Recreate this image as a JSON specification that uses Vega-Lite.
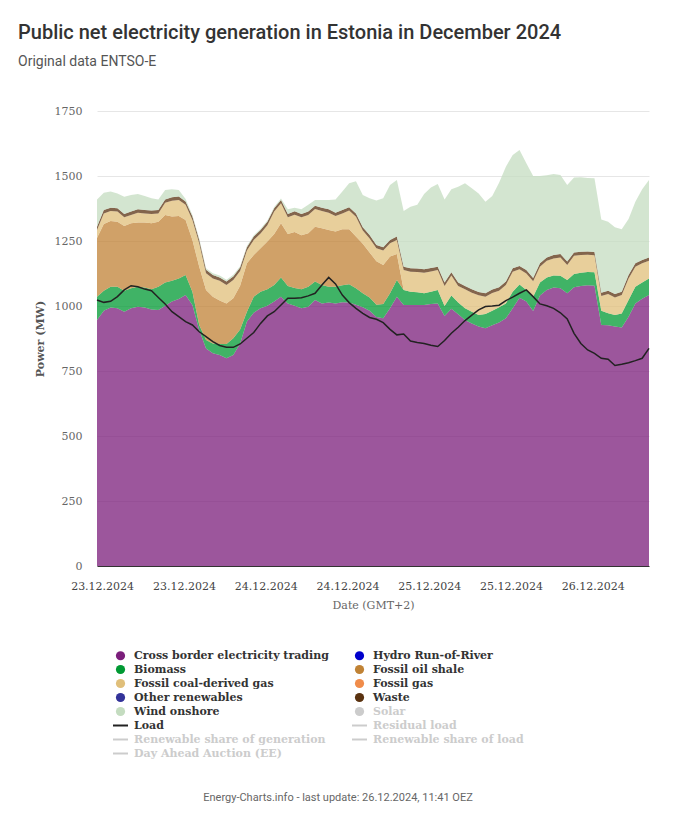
{
  "$schema": "https://vega.github.io/schema/vega-lite/v6.json",
  "width": 552,
  "height": 455,
  "autosize": "none",
  "padding": {"left": 97, "top": 111, "right": 32, "bottom": 260},
  "background": "white",
  "config": {"view": {"stroke": null}},
  "title": {
    "text": "Public net electricity generation in Estonia in December 2024",
    "subtitle": "Original data ENTSO-E",
    "anchor": "start",
    "frame": "group",
    "font": "Roboto",
    "fontSize": 20,
    "fontWeight": 500,
    "color": "#333333",
    "subtitleFont": "Roboto",
    "subtitleFontSize": 14,
    "subtitleColor": "#555555",
    "subtitlePadding": 12,
    "offset": 36,
    "dx": -79
  },
  "data": {
    "values": [
      {"t": "2024-12-22T23:15", "cb": 946, "bio": 90, "oil": 226, "coal": 30, "waste": 13, "wind": 105, "load": 1023},
      {"t": "2024-12-23T00:15", "cb": 982, "bio": 77, "oil": 256, "coal": 41, "waste": 13, "wind": 67, "load": 1014},
      {"t": "2024-12-23T01:15", "cb": 994, "bio": 80, "oil": 253, "coal": 38, "waste": 13, "wind": 62, "load": 1018},
      {"t": "2024-12-23T02:15", "cb": 991, "bio": 83, "oil": 250, "coal": 39, "waste": 13, "wind": 57, "load": 1036},
      {"t": "2024-12-23T03:15", "cb": 978, "bio": 81, "oil": 249, "coal": 33, "waste": 13, "wind": 66, "load": 1062},
      {"t": "2024-12-23T04:15", "cb": 991, "bio": 77, "oil": 250, "coal": 32, "waste": 13, "wind": 64, "load": 1078},
      {"t": "2024-12-23T05:15", "cb": 997, "bio": 77, "oil": 247, "coal": 38, "waste": 13, "wind": 59, "load": 1074},
      {"t": "2024-12-23T06:15", "cb": 994, "bio": 77, "oil": 250, "coal": 35, "waste": 13, "wind": 54, "load": 1065},
      {"t": "2024-12-23T07:15", "cb": 987, "bio": 77, "oil": 254, "coal": 36, "waste": 13, "wind": 47, "load": 1059},
      {"t": "2024-12-23T08:15", "cb": 985, "bio": 89, "oil": 250, "coal": 32, "waste": 13, "wind": 41, "load": 1033},
      {"t": "2024-12-23T09:15", "cb": 1001, "bio": 89, "oil": 260, "coal": 47, "waste": 13, "wind": 36, "load": 1008},
      {"t": "2024-12-23T10:15", "cb": 1017, "bio": 80, "oil": 247, "coal": 61, "waste": 13, "wind": 31, "load": 978},
      {"t": "2024-12-23T11:15", "cb": 1027, "bio": 79, "oil": 240, "coal": 62, "waste": 13, "wind": 25, "load": 959},
      {"t": "2024-12-23T12:15", "cb": 1042, "bio": 77, "oil": 212, "coal": 58, "waste": 13, "wind": 10, "load": 940},
      {"t": "2024-12-23T13:15", "cb": 1004, "bio": 51, "oil": 199, "coal": 77, "waste": 13, "wind": 6, "load": 927},
      {"t": "2024-12-23T14:15", "cb": 908, "bio": 19, "oil": 224, "coal": 90, "waste": 13, "wind": 6, "load": 901},
      {"t": "2024-12-23T15:15", "cb": 837, "bio": 32, "oil": 193, "coal": 64, "waste": 13, "wind": 6, "load": 882},
      {"t": "2024-12-23T16:15", "cb": 818, "bio": 38, "oil": 180, "coal": 70, "waste": 13, "wind": 7, "load": 863},
      {"t": "2024-12-23T17:15", "cb": 812, "bio": 42, "oil": 167, "coal": 76, "waste": 13, "wind": 7, "load": 848},
      {"t": "2024-12-23T18:15", "cb": 799, "bio": 55, "oil": 156, "coal": 71, "waste": 13, "wind": 7, "load": 841},
      {"t": "2024-12-23T19:15", "cb": 812, "bio": 64, "oil": 154, "coal": 70, "waste": 13, "wind": 7, "load": 841},
      {"t": "2024-12-23T20:15", "cb": 856, "bio": 54, "oil": 168, "coal": 57, "waste": 13, "wind": 5, "load": 854},
      {"t": "2024-12-23T21:15", "cb": 940, "bio": 38, "oil": 186, "coal": 49, "waste": 13, "wind": 5, "load": 876},
      {"t": "2024-12-23T22:15", "cb": 974, "bio": 62, "oil": 160, "coal": 58, "waste": 13, "wind": 5, "load": 898},
      {"t": "2024-12-23T23:15", "cb": 991, "bio": 64, "oil": 167, "coal": 57, "waste": 13, "wind": 5, "load": 933},
      {"t": "2024-12-24T00:15", "cb": 1001, "bio": 63, "oil": 184, "coal": 63, "waste": 13, "wind": 5, "load": 962},
      {"t": "2024-12-24T01:15", "cb": 1017, "bio": 64, "oil": 196, "coal": 86, "waste": 13, "wind": 5, "load": 978},
      {"t": "2024-12-24T02:15", "cb": 1036, "bio": 74, "oil": 208, "coal": 77, "waste": 13, "wind": 5, "load": 1004},
      {"t": "2024-12-24T03:15", "cb": 1010, "bio": 67, "oil": 200, "coal": 64, "waste": 13, "wind": 18, "load": 1030},
      {"t": "2024-12-24T04:15", "cb": 1001, "bio": 68, "oil": 216, "coal": 66, "waste": 13, "wind": 14, "load": 1030},
      {"t": "2024-12-24T05:15", "cb": 991, "bio": 73, "oil": 208, "coal": 69, "waste": 13, "wind": 18, "load": 1032},
      {"t": "2024-12-24T06:15", "cb": 997, "bio": 77, "oil": 206, "coal": 70, "waste": 13, "wind": 26, "load": 1039},
      {"t": "2024-12-24T07:15", "cb": 1023, "bio": 71, "oil": 211, "coal": 68, "waste": 13, "wind": 22, "load": 1049},
      {"t": "2024-12-24T08:15", "cb": 1010, "bio": 71, "oil": 218, "coal": 66, "waste": 13, "wind": 30, "load": 1081},
      {"t": "2024-12-24T09:15", "cb": 1013, "bio": 61, "oil": 218, "coal": 67, "waste": 13, "wind": 36, "load": 1110},
      {"t": "2024-12-24T10:15", "cb": 1010, "bio": 64, "oil": 213, "coal": 59, "waste": 13, "wind": 51, "load": 1085},
      {"t": "2024-12-24T11:15", "cb": 1014, "bio": 66, "oil": 215, "coal": 61, "waste": 13, "wind": 71, "load": 1042},
      {"t": "2024-12-24T12:15", "cb": 1013, "bio": 71, "oil": 211, "coal": 72, "waste": 13, "wind": 92, "load": 1013},
      {"t": "2024-12-24T13:15", "cb": 1005, "bio": 63, "oil": 199, "coal": 76, "waste": 13, "wind": 124, "load": 991},
      {"t": "2024-12-24T14:15", "cb": 995, "bio": 54, "oil": 190, "coal": 51, "waste": 13, "wind": 124, "load": 972},
      {"t": "2024-12-24T15:15", "cb": 982, "bio": 51, "oil": 173, "coal": 54, "waste": 13, "wind": 141, "load": 956},
      {"t": "2024-12-24T16:15", "cb": 958, "bio": 47, "oil": 167, "coal": 50, "waste": 13, "wind": 171, "load": 949},
      {"t": "2024-12-24T17:15", "cb": 953, "bio": 55, "oil": 150, "coal": 55, "waste": 13, "wind": 188, "load": 936},
      {"t": "2024-12-24T18:15", "cb": 991, "bio": 58, "oil": 141, "coal": 51, "waste": 13, "wind": 211, "load": 910},
      {"t": "2024-12-24T19:15", "cb": 1036, "bio": 64, "oil": 100, "coal": 54, "waste": 13, "wind": 218, "load": 889},
      {"t": "2024-12-24T20:15", "cb": 1004, "bio": 58, "oil": 0, "coal": 76, "waste": 13, "wind": 214, "load": 892},
      {"t": "2024-12-24T21:15", "cb": 1004, "bio": 51, "oil": 0, "coal": 77, "waste": 13, "wind": 237, "load": 865},
      {"t": "2024-12-24T22:15", "cb": 1004, "bio": 49, "oil": 0, "coal": 78, "waste": 13, "wind": 245, "load": 860},
      {"t": "2024-12-24T23:15", "cb": 1004, "bio": 45, "oil": 0, "coal": 79, "waste": 13, "wind": 290, "load": 856},
      {"t": "2024-12-25T00:15", "cb": 1008, "bio": 47, "oil": 0, "coal": 78, "waste": 13, "wind": 310, "load": 849},
      {"t": "2024-12-25T01:15", "cb": 1010, "bio": 52, "oil": 0, "coal": 76, "waste": 13, "wind": 318, "load": 844},
      {"t": "2024-12-25T02:15", "cb": 962, "bio": 38, "oil": 0, "coal": 77, "waste": 13, "wind": 320, "load": 867},
      {"t": "2024-12-25T03:15", "cb": 989, "bio": 51, "oil": 0, "coal": 77, "waste": 13, "wind": 319, "load": 895},
      {"t": "2024-12-25T04:15", "cb": 968, "bio": 45, "oil": 0, "coal": 64, "waste": 13, "wind": 369, "load": 918},
      {"t": "2024-12-25T05:15", "cb": 946, "bio": 45, "oil": 0, "coal": 73, "waste": 13, "wind": 395, "load": 944},
      {"t": "2024-12-25T06:15", "cb": 933, "bio": 45, "oil": 0, "coal": 73, "waste": 13, "wind": 389, "load": 965},
      {"t": "2024-12-25T07:15", "cb": 921, "bio": 44, "oil": 0, "coal": 76, "waste": 13, "wind": 379, "load": 985},
      {"t": "2024-12-25T08:15", "cb": 914, "bio": 55, "oil": 0, "coal": 67, "waste": 13, "wind": 352, "load": 998},
      {"t": "2024-12-25T09:15", "cb": 926, "bio": 56, "oil": 0, "coal": 68, "waste": 13, "wind": 360, "load": 1000},
      {"t": "2024-12-25T10:15", "cb": 937, "bio": 58, "oil": 0, "coal": 64, "waste": 13, "wind": 402, "load": 1003},
      {"t": "2024-12-25T11:15", "cb": 953, "bio": 57, "oil": 0, "coal": 71, "waste": 13, "wind": 442, "load": 1021},
      {"t": "2024-12-25T12:15", "cb": 991, "bio": 64, "oil": 0, "coal": 77, "waste": 13, "wind": 436, "load": 1034},
      {"t": "2024-12-25T13:15", "cb": 1032, "bio": 51, "oil": 0, "coal": 58, "waste": 13, "wind": 446, "load": 1049},
      {"t": "2024-12-25T14:15", "cb": 1017, "bio": 45, "oil": 0, "coal": 63, "waste": 13, "wind": 411, "load": 1062},
      {"t": "2024-12-25T15:15", "cb": 981, "bio": 55, "oil": 0, "coal": 59, "waste": 13, "wind": 392, "load": 1036},
      {"t": "2024-12-25T16:15", "cb": 1040, "bio": 50, "oil": 0, "coal": 61, "waste": 13, "wind": 336, "load": 1008},
      {"t": "2024-12-25T17:15", "cb": 1062, "bio": 48, "oil": 0, "coal": 64, "waste": 13, "wind": 316, "load": 1001},
      {"t": "2024-12-25T18:15", "cb": 1071, "bio": 46, "oil": 0, "coal": 66, "waste": 13, "wind": 312, "load": 991},
      {"t": "2024-12-25T19:15", "cb": 1068, "bio": 48, "oil": 0, "coal": 71, "waste": 13, "wind": 304, "load": 974},
      {"t": "2024-12-25T20:15", "cb": 1049, "bio": 51, "oil": 0, "coal": 58, "waste": 13, "wind": 294, "load": 950},
      {"t": "2024-12-25T21:15", "cb": 1072, "bio": 51, "oil": 0, "coal": 70, "waste": 13, "wind": 288, "load": 895},
      {"t": "2024-12-25T22:15", "cb": 1077, "bio": 51, "oil": 0, "coal": 68, "waste": 13, "wind": 286, "load": 856},
      {"t": "2024-12-25T23:15", "cb": 1080, "bio": 51, "oil": 0, "coal": 66, "waste": 13, "wind": 282, "load": 831},
      {"t": "2024-12-26T00:15", "cb": 1078, "bio": 52, "oil": 0, "coal": 65, "waste": 13, "wind": 283, "load": 818},
      {"t": "2024-12-26T01:15", "cb": 927, "bio": 55, "oil": 0, "coal": 56, "waste": 13, "wind": 282, "load": 799},
      {"t": "2024-12-26T02:15", "cb": 926, "bio": 46, "oil": 0, "coal": 74, "waste": 13, "wind": 265, "load": 795},
      {"t": "2024-12-26T03:15", "cb": 921, "bio": 44, "oil": 0, "coal": 68, "waste": 13, "wind": 257, "load": 771},
      {"t": "2024-12-26T04:15", "cb": 917, "bio": 54, "oil": 0, "coal": 71, "waste": 13, "wind": 240, "load": 776},
      {"t": "2024-12-26T05:15", "cb": 959, "bio": 64, "oil": 0, "coal": 83, "waste": 13, "wind": 216, "load": 782},
      {"t": "2024-12-26T06:15", "cb": 1010, "bio": 64, "oil": 0, "coal": 77, "waste": 13, "wind": 237, "load": 790},
      {"t": "2024-12-26T07:15", "cb": 1028, "bio": 62, "oil": 0, "coal": 74, "waste": 13, "wind": 272, "load": 799},
      {"t": "2024-12-26T08:15", "cb": 1042, "bio": 64, "oil": 0, "coal": 68, "waste": 13, "wind": 298, "load": 837}
    ]
  },
  "layer": [
    {
      "transform": [
        {"fold": ["cb", "bio", "oil", "coal", "waste", "wind"], "as": ["key", "MW"]},
        {
          "lookup": "key",
          "from": {
            "data": {
              "values": [
                {"key": "cb", "series": "Cross border electricity trading", "rank": 0},
                {"key": "bio", "series": "Biomass", "rank": 1},
                {"key": "oil", "series": "Fossil oil shale", "rank": 2},
                {"key": "coal", "series": "Fossil coal-derived gas", "rank": 3},
                {"key": "waste", "series": "Waste", "rank": 4},
                {"key": "wind", "series": "Wind onshore", "rank": 5}
              ]
            },
            "key": "key",
            "fields": ["series", "rank"]
          }
        }
      ],
      "mark": {"type": "area", "fillOpacity": 0.75, "interpolate": "linear"},
      "encoding": {
        "x": {
          "field": "t",
          "type": "temporal",
          "axis": {
            "title": "Date (GMT+2)",
            "format": "%d.%m.%Y",
            "tickCount": 7,
            "labelOverlap": false,
            "labelFlush": false,
            "grid": false,
            "ticks": false,
            "domain": true,
            "domainColor": "#333333",
            "zindex": 1,
            "labelPadding": 14,
            "labelFont": "DejaVu Serif",
            "labelFontSize": 11,
            "labelColor": "#444444",
            "titleFont": "DejaVu Serif",
            "titleFontSize": 11,
            "titleFontWeight": "normal",
            "titleColor": "#666666",
            "titlePadding": 8
          }
        },
        "y": {
          "field": "MW",
          "type": "quantitative",
          "stack": "zero",
          "scale": {"domain": [0, 1750], "nice": false},
          "axis": {
            "title": "Power (MW)",
            "values": [0, 250, 500, 750, 1000, 1250, 1500, 1750],
            "format": "d",
            "grid": true,
            "gridColor": "#e6e6e6",
            "domain": false,
            "ticks": false,
            "labelPadding": 15,
            "labelFont": "DejaVu Serif",
            "labelFontSize": 11,
            "labelColor": "#666666",
            "titleFont": "DejaVu Serif",
            "titleFontSize": 11,
            "titleFontWeight": "bold",
            "titleColor": "#555555",
            "titlePadding": 9
          }
        },
        "color": {
          "field": "series",
          "type": "nominal",
          "scale": {
            "domain": [
              "Cross border electricity trading",
              "Hydro Run-of-River",
              "Biomass",
              "Fossil oil shale",
              "Fossil coal-derived gas",
              "Fossil gas",
              "Other renewables",
              "Waste",
              "Wind onshore",
              "Solar",
              "Load",
              "Residual load",
              "Renewable share of generation",
              "Renewable share of load",
              "Day Ahead Auction (EE)"
            ],
            "range": [
              "#7b1e7b",
              "#0000cc",
              "#009933",
              "#c08235",
              "#e0bf7a",
              "#f08c4a",
              "#333399",
              "#5a3210",
              "#c4dcc0",
              "#cccccc",
              "#222222",
              "#cccccc",
              "#cccccc",
              "#cccccc",
              "#cccccc"
            ]
          },
          "legend": {
            "orient": "none",
            "legendX": 18,
            "legendY": 539,
            "direction": "horizontal",
            "columns": 2,
            "columnPadding": 19,
            "rowPadding": 2,
            "padding": 0,
            "symbolType": "circle",
            "symbolSize": 85,
            "symbolOpacity": 1,
            "labelFont": "DejaVu Serif",
            "labelFontSize": 11,
            "labelFontWeight": "bold",
            "labelColor": "#333333",
            "labelOffset": 8,
            "labelLimit": 400,
            "title": "Energy-Charts.info - last update: 26.12.2024, 11:41 OEZ",
            "titleOrient": "bottom",
            "titleAnchor": "middle",
            "titleFont": "Roboto",
            "titleFontSize": 11,
            "titleFontWeight": "normal",
            "titleColor": "#666666",
            "titlePadding": 33,
            "titleLimit": 700,
            "encode": {
              "symbols": {
                "update": {
                  "shape": {"signal": "indexof(['Load','Residual load','Renewable share of generation','Renewable share of load','Day Ahead Auction (EE)'], datum.label) >= 0 ? 'stroke' : 'circle'"},
                  "size": {"signal": "indexof(['Load','Residual load','Renewable share of generation','Renewable share of load','Day Ahead Auction (EE)'], datum.label) >= 0 ? 225 : 85"},
                  "strokeWidth": {"signal": "indexof(['Load','Residual load','Renewable share of generation','Renewable share of load','Day Ahead Auction (EE)'], datum.label) >= 0 ? 2 : 0"},
                  "stroke": {"scale": "color", "field": "value"},
                  "fill": {"scale": "color", "field": "value"}
                }
              },
              "labels": {
                "update": {
                  "fill": {"signal": "indexof(['Solar','Residual load','Renewable share of generation','Renewable share of load','Day Ahead Auction (EE)'], datum.label) >= 0 ? '#cccccc' : '#333333'"}
                }
              },
              "title": {
                "update": {"dx": {"value": 19}}
              }
            }
          }
        },
        "order": {"field": "rank", "type": "quantitative", "sort": "ascending"}
      }
    },
    {
      "mark": {"type": "line", "strokeWidth": 1.5, "interpolate": "linear", "color": "#222222"},
      "encoding": {
        "x": {"field": "t", "type": "temporal"},
        "y": {"field": "load", "type": "quantitative"}
      }
    }
  ]
}
